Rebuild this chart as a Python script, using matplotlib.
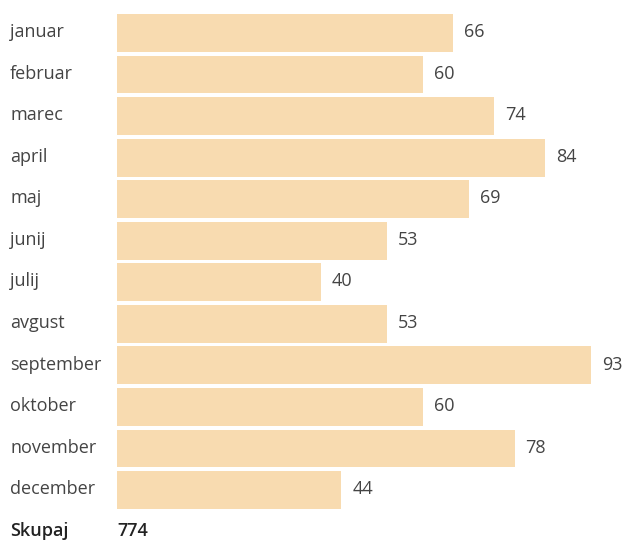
import matplotlib.pyplot as plt

# podatki
meseci = ["januar", "februar", "marec", "april", "maj", "junij", "julij",
          "avgust", "september", "oktober", "november", "december"]
vrednosti = [66, 60, 74, 84, 69, 53, 40, 53, 93, 60, 78, 44]
skupaj_label = "Skupaj"
skupaj = 774

barva = "#F8DBB0"
tekst = "#444444"
plt.rcParams['font.family'] = ['Open Sans', 'DejaVu Sans']

W, H = 622, 541
fig = plt.figure(figsize=(W / 100, H / 100), dpi=100)

# os od x=117px do desnega roba
px_na_enoto = (591 - 117) / 93
pitch = 41.55
y0 = 33
ax = fig.add_axes([117 / W, 0, 1 - 117 / W, 1])
ax.set_xlim(0, (W - 117) / px_na_enoto)
ax.set_ylim((H - y0) / pitch, -y0 / pitch)
ax.axis('off')

y = list(range(len(meseci)))
ax.barh(y, vrednosti, height=0.91, color=barva)

lab_x = (10 - 117) / px_na_enoto
off = 11 / px_na_enoto
fs = 13
dy = -0.02
for i, (m, v) in enumerate(zip(meseci, vrednosti)):
    ax.text(lab_x, i + dy, m, ha='left', va='center', fontsize=fs,
            color=tekst, clip_on=False)
    ax.text(v + off, i + dy, str(v), ha='left', va='center', fontsize=fs,
            color=tekst)

n = len(meseci)
ax.text(lab_x, n + dy, skupaj_label, ha='left', va='center', fontsize=fs,
        color='#222222', fontweight='semibold', clip_on=False)
ax.text(0, n + dy, str(skupaj), ha='left', va='center', fontsize=fs,
        color='#222222', fontweight='semibold')

fig.savefig("out.png", dpi=100)
